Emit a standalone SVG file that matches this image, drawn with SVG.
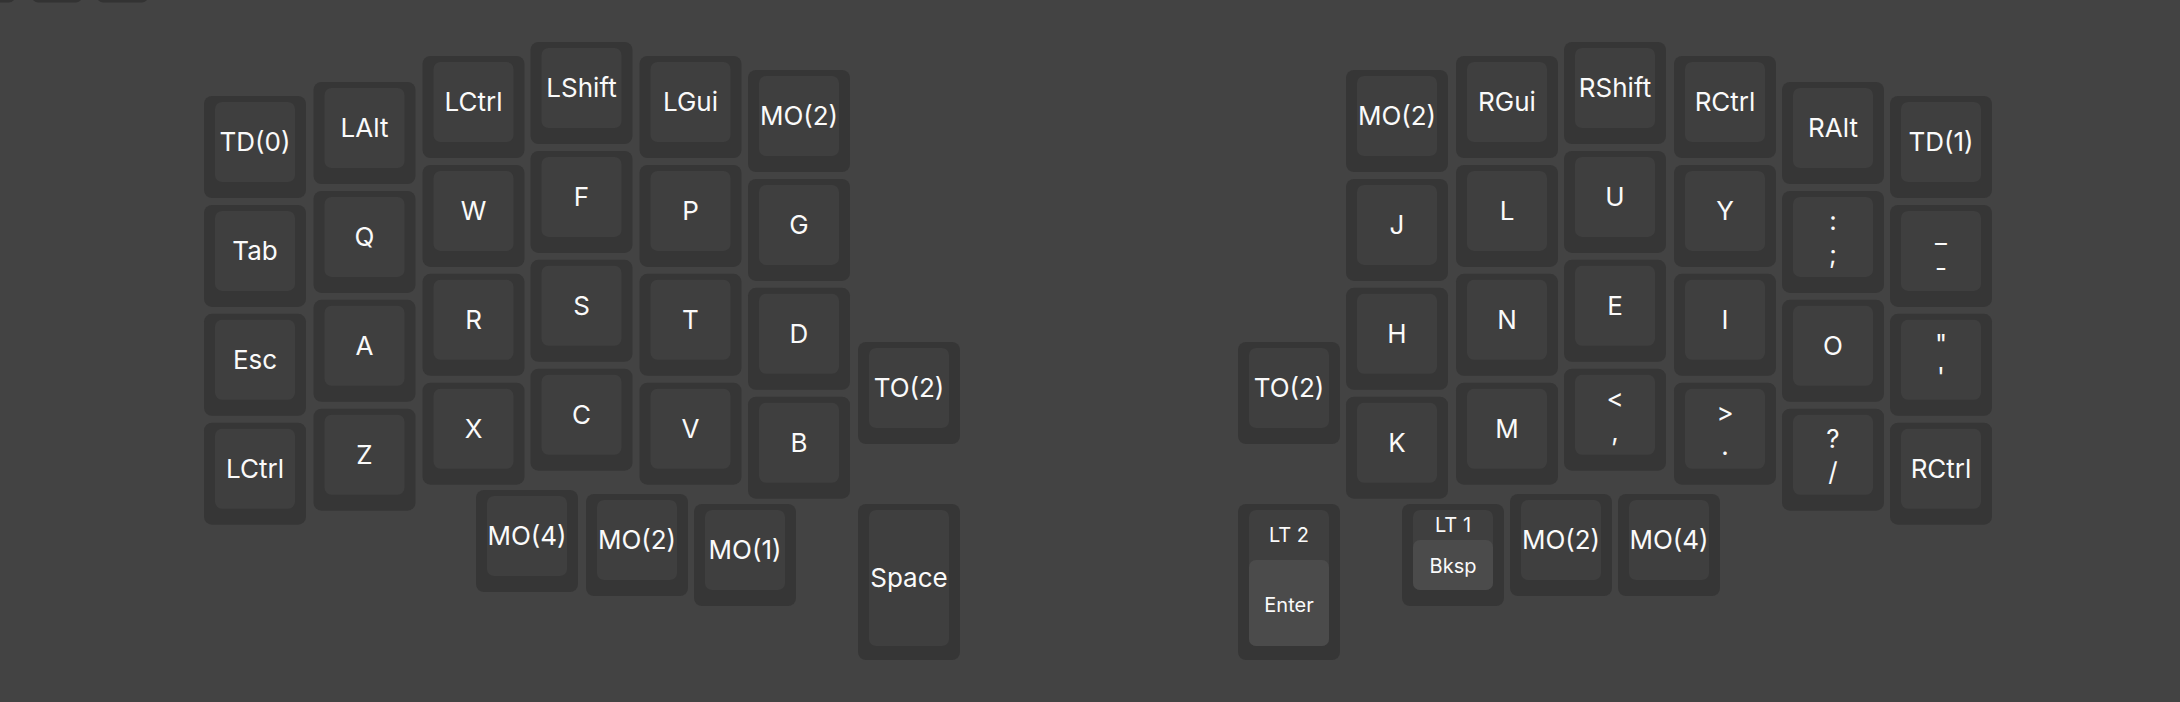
<svg xmlns="http://www.w3.org/2000/svg" width="2180" height="702" viewBox="0 0 2180 702">
<style>
.o{fill:#363636}
.c{fill:#3f3f3f}
.l{fill:#4b4b4b}
.t{font-family:Inter,"Noto Sans","Liberation Sans",sans-serif;font-size:26px;fill:#fafafa;text-anchor:middle}
.s{font-family:Inter,"Noto Sans","Liberation Sans",sans-serif;font-size:20px;fill:#fafafa;text-anchor:middle}
.w{fill:#333333}
</style>
<defs>
<g id="u1"><rect class="o" width="102" height="102" rx="8"/><rect class="c" x="11" y="6" width="80" height="80" rx="7"/></g>
<g id="u15"><rect class="o" width="102" height="156" rx="8"/><rect class="c" x="11" y="6" width="80" height="136" rx="7"/></g>
</defs>
<rect width="2180" height="702" fill="#434343"/>
<g id="chrome">
<rect class="w" x="-10" y="-20" width="25" height="22.5" rx="6"/>
<rect class="w" x="32" y="-20" width="50" height="22.5" rx="6"/>
<rect class="w" x="97" y="-20" width="51" height="22.5" rx="6"/>
</g>
<g id="left-half">
<g id="k-td0" transform="translate(204 96)"><use href="#u1"/><text class="t" x="51" y="55">TD(0)</text></g>
<g id="k-tab" transform="translate(204 204.9)"><use href="#u1"/><text class="t" x="51" y="55">Tab</text></g>
<g id="k-esc" transform="translate(204 313.8)"><use href="#u1"/><text class="t" x="51" y="55">Esc</text></g>
<g id="k-lctrl2" transform="translate(204 422.7)"><use href="#u1"/><text class="t" x="51" y="55">LCtrl</text></g>
<g id="k-lalt" transform="translate(313.5 82)"><use href="#u1"/><text class="t" x="51" y="55">LAlt</text></g>
<g id="k-q" transform="translate(313.5 190.9)"><use href="#u1"/><text class="t" x="51" y="55">Q</text></g>
<g id="k-a" transform="translate(313.5 299.8)"><use href="#u1"/><text class="t" x="51" y="55">A</text></g>
<g id="k-z" transform="translate(313.5 408.7)"><use href="#u1"/><text class="t" x="51" y="55">Z</text></g>
<g id="k-lctrl" transform="translate(422.5 56)"><use href="#u1"/><text class="t" x="51" y="55">LCtrl</text></g>
<g id="k-w" transform="translate(422.5 164.9)"><use href="#u1"/><text class="t" x="51" y="55">W</text></g>
<g id="k-r" transform="translate(422.5 273.8)"><use href="#u1"/><text class="t" x="51" y="55">R</text></g>
<g id="k-x" transform="translate(422.5 382.7)"><use href="#u1"/><text class="t" x="51" y="55">X</text></g>
<g id="k-lshift" transform="translate(530.5 42)"><use href="#u1"/><text class="t" x="51" y="55">LShift</text></g>
<g id="k-f" transform="translate(530.5 150.9)"><use href="#u1"/><text class="t" x="51" y="55">F</text></g>
<g id="k-s" transform="translate(530.5 259.8)"><use href="#u1"/><text class="t" x="51" y="55">S</text></g>
<g id="k-c" transform="translate(530.5 368.7)"><use href="#u1"/><text class="t" x="51" y="55">C</text></g>
<g id="k-lgui" transform="translate(639.5 56)"><use href="#u1"/><text class="t" x="51" y="55">LGui</text></g>
<g id="k-p" transform="translate(639.5 164.9)"><use href="#u1"/><text class="t" x="51" y="55">P</text></g>
<g id="k-t" transform="translate(639.5 273.8)"><use href="#u1"/><text class="t" x="51" y="55">T</text></g>
<g id="k-v" transform="translate(639.5 382.7)"><use href="#u1"/><text class="t" x="51" y="55">V</text></g>
<g id="k-mo2a" transform="translate(748 70)"><use href="#u1"/><text class="t" x="51" y="55">MO(2)</text></g>
<g id="k-g" transform="translate(748 178.9)"><use href="#u1"/><text class="t" x="51" y="55">G</text></g>
<g id="k-d" transform="translate(748 287.8)"><use href="#u1"/><text class="t" x="51" y="55">D</text></g>
<g id="k-b" transform="translate(748 396.7)"><use href="#u1"/><text class="t" x="51" y="55">B</text></g>
<g id="k-to2a" transform="translate(858 342)"><use href="#u1"/><text class="t" x="51" y="55">TO(2)</text></g>
<g id="k-mo4a" transform="translate(476 490)"><use href="#u1"/><text class="t" x="51" y="55">MO(4)</text></g>
<g id="k-mo2b" transform="translate(586 494)"><use href="#u1"/><text class="t" x="51" y="55">MO(2)</text></g>
<g id="k-mo1" transform="translate(694 504)"><use href="#u1"/><text class="t" x="51" y="55">MO(1)</text></g>
<g id="k-space" transform="translate(858 504)"><use href="#u15"/><text class="t" x="51" y="83">Space</text></g>
</g>
<g id="right-half">
<g id="k-mo2c" transform="translate(1346 70)"><use href="#u1"/><text class="t" x="51" y="55">MO(2)</text></g>
<g id="k-j" transform="translate(1346 178.9)"><use href="#u1"/><text class="t" x="51" y="55">J</text></g>
<g id="k-h" transform="translate(1346 287.8)"><use href="#u1"/><text class="t" x="51" y="55">H</text></g>
<g id="k-k" transform="translate(1346 396.7)"><use href="#u1"/><text class="t" x="51" y="55">K</text></g>
<g id="k-rgui" transform="translate(1456 56)"><use href="#u1"/><text class="t" x="51" y="55">RGui</text></g>
<g id="k-l" transform="translate(1456 164.9)"><use href="#u1"/><text class="t" x="51" y="55">L</text></g>
<g id="k-n" transform="translate(1456 273.8)"><use href="#u1"/><text class="t" x="51" y="55">N</text></g>
<g id="k-m" transform="translate(1456 382.7)"><use href="#u1"/><text class="t" x="51" y="55">M</text></g>
<g id="k-rshift" transform="translate(1564 42)"><use href="#u1"/><text class="t" x="51" y="55">RShift</text></g>
<g id="k-u" transform="translate(1564 150.9)"><use href="#u1"/><text class="t" x="51" y="55">U</text></g>
<g id="k-e" transform="translate(1564 259.8)"><use href="#u1"/><text class="t" x="51" y="55">E</text></g>
<g id="k-comma" transform="translate(1564 368.7)"><use href="#u1"/><text class="t" x="51" y="39">&lt;</text><text class="t" x="51" y="72">,</text></g>
<g id="k-rctrl" transform="translate(1674 56)"><use href="#u1"/><text class="t" x="51" y="55">RCtrl</text></g>
<g id="k-y" transform="translate(1674 164.9)"><use href="#u1"/><text class="t" x="51" y="55">Y</text></g>
<g id="k-i" transform="translate(1674 273.8)"><use href="#u1"/><text class="t" x="51" y="55">I</text></g>
<g id="k-dot" transform="translate(1674 382.7)"><use href="#u1"/><text class="t" x="51" y="39">&gt;</text><text class="t" x="51" y="72">.</text></g>
<g id="k-ralt" transform="translate(1782 82)"><use href="#u1"/><text class="t" x="51" y="55">RAlt</text></g>
<g id="k-semi" transform="translate(1782 190.9)"><use href="#u1"/><text class="t" x="51" y="39">:</text><text class="t" x="51" y="72">;</text></g>
<g id="k-o" transform="translate(1782 299.8)"><use href="#u1"/><text class="t" x="51" y="55">O</text></g>
<g id="k-slash" transform="translate(1782 408.7)"><use href="#u1"/><text class="t" x="51" y="39">?</text><text class="t" x="51" y="72">/</text></g>
<g id="k-td1" transform="translate(1890 96)"><use href="#u1"/><text class="t" x="51" y="55">TD(1)</text></g>
<g id="k-minus" transform="translate(1890 204.9)"><use href="#u1"/><text class="t" x="51" y="38">_</text><text class="t" x="51" y="72">-</text></g>
<g id="k-quote" transform="translate(1890 313.8)"><use href="#u1"/><text class="t" x="51" y="39">"</text><text class="t" x="51" y="72">'</text></g>
<g id="k-rctrl2" transform="translate(1890 422.7)"><use href="#u1"/><text class="t" x="51" y="55">RCtrl</text></g>
<g id="k-to2b" transform="translate(1238 342)"><use href="#u1"/><text class="t" x="51" y="55">TO(2)</text></g>
<g id="k-lt2" transform="translate(1238 504)"><use href="#u15"/><rect class="l" x="11" y="56" width="80" height="86" rx="7"/><text class="s" x="51" y="38">LT 2</text><text class="s" x="51" y="108">Enter</text></g>
<g id="k-lt1" transform="translate(1402 504)"><use href="#u1"/><rect class="l" x="11" y="36" width="80" height="50" rx="7"/><text class="s" x="51" y="28">LT 1</text><text class="s" x="51" y="69">Bksp</text></g>
<g id="k-mo2d" transform="translate(1510 494)"><use href="#u1"/><text class="t" x="51" y="55">MO(2)</text></g>
<g id="k-mo4b" transform="translate(1618 494)"><use href="#u1"/><text class="t" x="51" y="55">MO(4)</text></g>
</g>
<g id="connectors"/>
</svg>
